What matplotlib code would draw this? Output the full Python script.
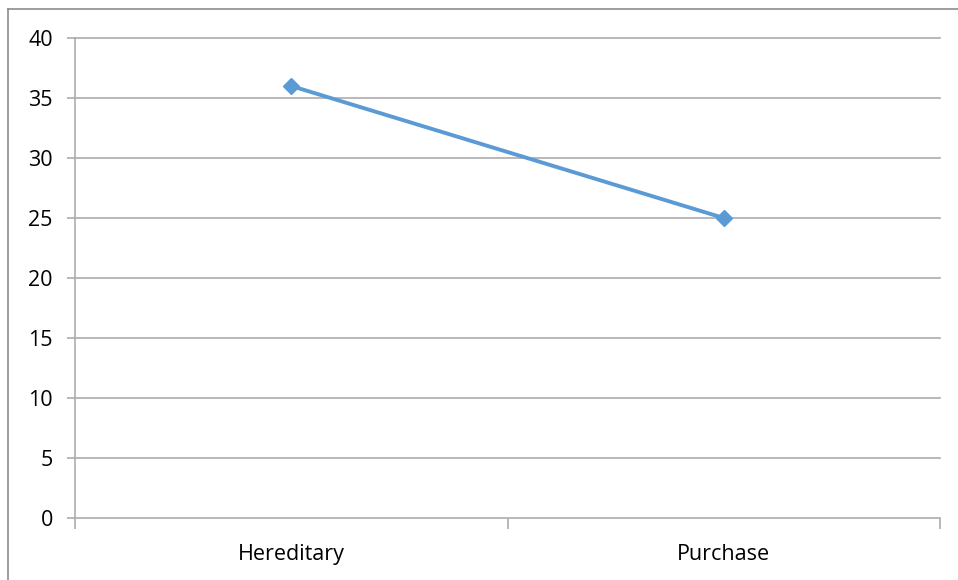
import matplotlib.pyplot as plt
from matplotlib.lines import Line2D

categories = ['Hereditary', 'Purchase']
values = [36, 25]
yticks = [0, 5, 10, 15, 20, 25, 30, 35, 40]

plt.rcParams['font.family'] = ['Open Sans', 'DejaVu Sans']

fig = plt.figure(figsize=(9.58, 5.80), dpi=100)
ax = fig.add_axes([75/958, 1 - 518/580, 865/958, 480/580])

grid_col = '#adadad'
x = list(range(len(categories)))
ax.plot(x, values, color='#5b9bd5', linewidth=2.8, marker='D', markersize=8.5,
        markeredgecolor='#5b9bd5', markerfacecolor='#5b9bd5', zorder=3)

ax.set_xlim(-0.5, len(categories) - 0.5)
ax.set_ylim(0, 40)
ax.set_yticks(yticks)
ax.set_yticklabels([str(t) for t in yticks], fontsize=15.5)
for t in yticks[1:]:
    ax.axhline(t, color=grid_col, linewidth=1.2, zorder=1, clip_on=False)

# category ticks sit between the categories, labels at the centres
ax.set_xticks([i - 0.5 for i in range(len(categories) + 1)])
ax.set_xticklabels([])
ax.set_xticks(x, minor=True)
ax.set_xticklabels(categories, minor=True, fontsize=15.5)
ax.tick_params(axis='x', which='major', length=8, width=1.2, color=grid_col)
ax.tick_params(axis='x', which='minor', length=0, pad=19)
ax.tick_params(axis='y', length=6, width=1.2, color=grid_col, pad=10)

for s in ['top', 'right']:
    ax.spines[s].set_visible(False)
for s in ['left', 'bottom']:
    ax.spines[s].set_color(grid_col)
    ax.spines[s].set_linewidth(1.2)

# outer chart border (only left and top visible in the crop)
fig.add_artist(Line2D([7.5/958, 7.5/958], [0, 1 - 8.5/580], color='#8c8c8c',
                      linewidth=1.2, transform=fig.transFigure))
fig.add_artist(Line2D([7.5/958, 1], [1 - 8.5/580, 1 - 8.5/580], color='#8c8c8c',
                      linewidth=1.2, transform=fig.transFigure))

fig.savefig('out.png', dpi=100)
